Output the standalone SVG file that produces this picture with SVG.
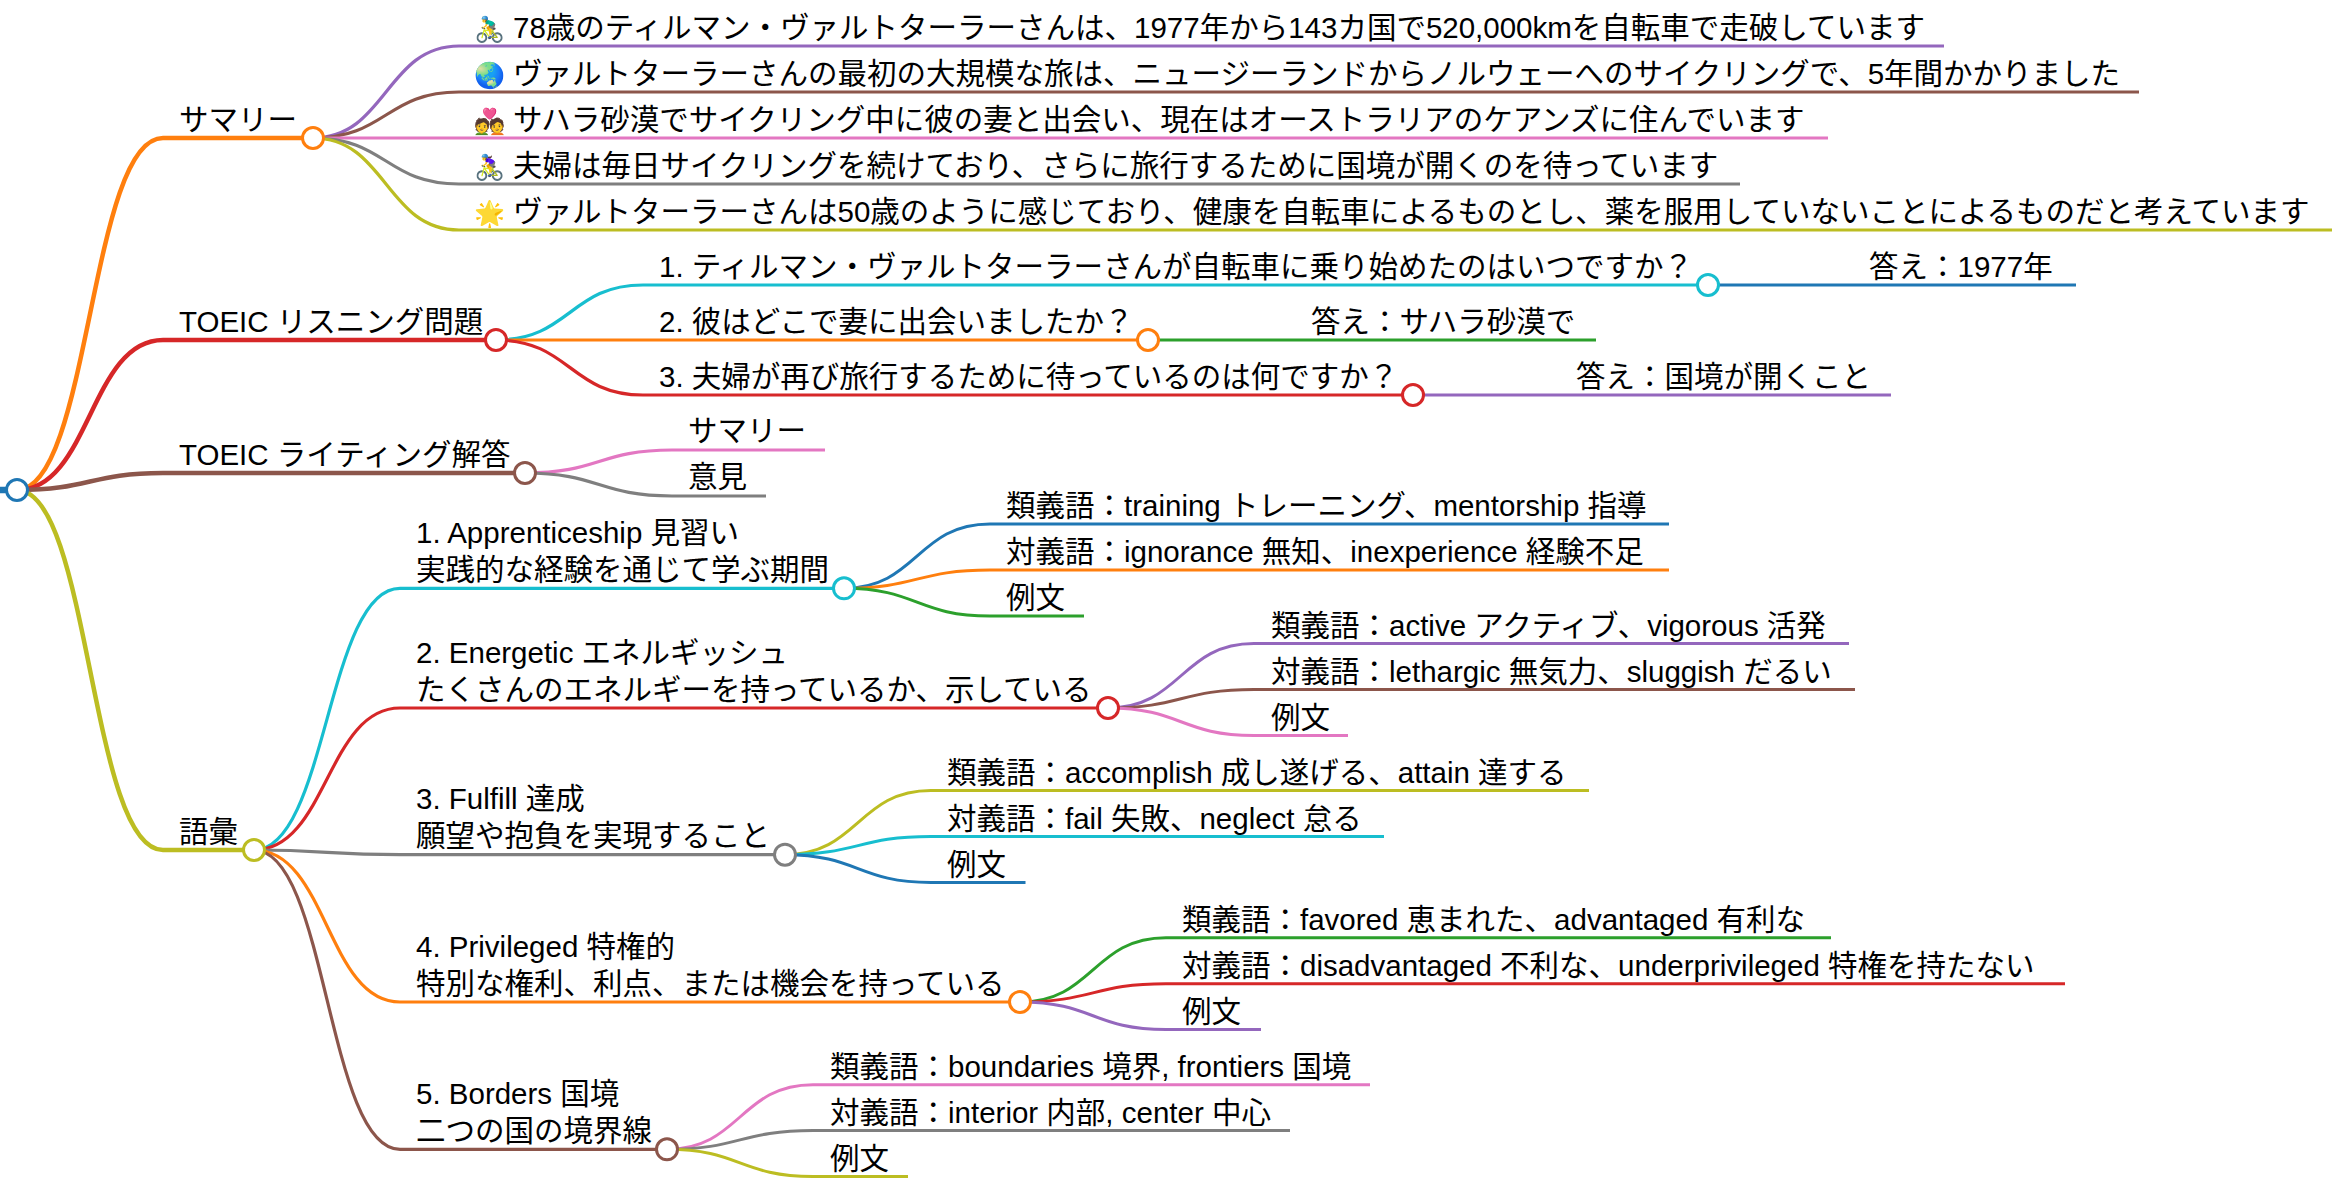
<svg xmlns="http://www.w3.org/2000/svg" width="2344" height="1192" viewBox="0 0 2344 1192">
<style>
text{font-family:"Liberation Sans","Noto Sans CJK JP",sans-serif;font-size:29.5px;fill:#000}
.e{font-size:25px}
path{fill:none}
circle{fill:#fff;stroke-width:3}
.l0{stroke-width:6.5}.l1{stroke-width:4.5}.l2{stroke-width:3.2}.l3{stroke-width:3}
.blue{stroke:#1f77b4}.orange{stroke:#ff7f0e}.green{stroke:#2ca02c}.red{stroke:#d62728}.purple{stroke:#9467bd}.brown{stroke:#8c564b}.pink{stroke:#e377c2}.gray{stroke:#7f7f7f}.olive{stroke:#bcbd22}.cyan{stroke:#17becf}
</style>
<rect width="2344" height="1192" fill="#fff"/>
<g id="connectors">
<path class="l0 blue" d="M0 490H17"/>
<path class="l1 orange" d="M17 490C90 490 90 138 163 138H313"/>
<path class="l1 red" d="M17 490C90 490 90 340 163 340H496"/>
<path class="l1 brown" d="M17 490C90 490 90 473 163 473H525"/>
<path class="l1 olive" d="M17 490C90 490 90 850 163 850H254"/>
<path class="l2 purple" d="M313 138C386 138 386 46 459 46H1944"/>
<path class="l2 brown" d="M313 138C386 138 386 92 459 92H2139"/>
<path class="l2 pink" d="M313 138C386 138 386 138 459 138H1828"/>
<path class="l2 gray" d="M313 138C386 138 386 184 459 184H1740"/>
<path class="l2 olive" d="M313 138C386 138 386 230 459 230H2332"/>
<path class="l2 cyan" d="M496 340C570 340 570 285 643 285H1708"/>
<path class="l2 orange" d="M496 340C570 340 570 340 643 340H1148"/>
<path class="l2 red" d="M496 340C570 340 570 395 643 395H1413"/>
<path class="l3 blue" d="M1708 285H2076"/>
<path class="l3 green" d="M1148 340H1596"/>
<path class="l3 purple" d="M1413 395H1891"/>
<path class="l2 pink" d="M525 473C599 473 599 450 672 450H825"/>
<path class="l2 gray" d="M525 473C599 473 599 496 672 496H766"/>
<path class="l2 cyan" d="M254 850C327 850 327 588.3 400 588.3H844"/>
<path class="l2 red" d="M254 850C327 850 327 708 400 708H1108"/>
<path class="l2 gray" d="M254 850C327 850 327 854.7 400 854.7H785"/>
<path class="l2 orange" d="M254 850C327 850 327 1002 400 1002H1020"/>
<path class="l2 brown" d="M254 850C327 850 327 1149.3 400 1149.3H667"/>
<path class="l3 blue" d="M844 588.3C917 588.3 917 524 990 524H1669"/>
<path class="l3 orange" d="M844 588.3C917 588.3 917 570 990 570H1669"/>
<path class="l3 green" d="M844 588.3C917 588.3 917 616 990 616H1084"/>
<path class="l3 purple" d="M1108 708C1181 708 1181 643.5 1254 643.5H1849"/>
<path class="l3 brown" d="M1108 708C1181 708 1181 689.5 1254 689.5H1855"/>
<path class="l3 pink" d="M1108 708C1181 708 1181 735.5 1254 735.5H1348"/>
<path class="l3 olive" d="M785 854.7C858 854.7 858 790.5 931 790.5H1589"/>
<path class="l3 cyan" d="M785 854.7C858 854.7 858 836.5 931 836.5H1384"/>
<path class="l3 blue" d="M785 854.7C858 854.7 858 882.5 931 882.5H1025.5"/>
<path class="l3 green" d="M1020 1002C1093 1002 1093 937.7 1166 937.7H1831"/>
<path class="l3 red" d="M1020 1002C1093 1002 1093 983.7 1166 983.7H2065"/>
<path class="l3 purple" d="M1020 1002C1093 1002 1093 1029.5 1166 1029.5H1261"/>
<path class="l3 pink" d="M667 1149.3C740 1149.3 740 1084.7 813 1084.7H1370"/>
<path class="l3 gray" d="M667 1149.3C740 1149.3 740 1130.5 813 1130.5H1290"/>
<path class="l3 olive" d="M667 1149.3C740 1149.3 740 1176.5 813 1176.5H908"/>
</g>
<g id="root"><circle class="blue" cx="17" cy="490" r="10.5"/></g>
<g id="n-summary"><text x="179" y="130">サマリー</text><circle class="orange" cx="313" cy="138" r="10.5"/></g>
<g id="s1"><text y="38"><tspan class="e" x="474">🚴‍♂️</tspan><tspan x="513">78歳のティルマン・ヴァルトターラーさんは、1977年から143カ国で520,000kmを自転車で走破しています</tspan></text></g>
<g id="s2"><text y="84"><tspan class="e" x="474">🌏</tspan><tspan x="513">ヴァルトターラーさんの最初の大規模な旅は、ニュージーランドからノルウェーへのサイクリングで、5年間かかりました</tspan></text></g>
<g id="s3"><text y="130"><tspan class="e" x="474">💑</tspan><tspan x="513">サハラ砂漠でサイクリング中に彼の妻と出会い、現在はオーストラリアのケアンズに住んでいます</tspan></text></g>
<g id="s4"><text y="176"><tspan class="e" x="474">🚴‍♀️</tspan><tspan x="513">夫婦は毎日サイクリングを続けており、さらに旅行するために国境が開くのを待っています</tspan></text></g>
<g id="s5"><text y="222"><tspan class="e" x="474">🌟</tspan><tspan x="513">ヴァルトターラーさんは50歳のように感じており、健康を自転車によるものとし、薬を服用していないことによるものだと考えています</tspan></text></g>
<g id="n-listen"><text x="179" y="332">TOEIC リスニング問題</text><circle class="red" cx="496" cy="340" r="10.5"/></g>
<g id="q1"><text x="659" y="277">1. ティルマン・ヴァルトターラーさんが自転車に乗り始めたのはいつですか？</text><circle class="cyan" cx="1708" cy="285" r="10.5"/></g>
<g id="a1"><text x="1869" y="277">答え：1977年</text></g>
<g id="q2"><text x="659" y="332">2. 彼はどこで妻に出会いましたか？</text><circle class="orange" cx="1148" cy="340" r="10.5"/></g>
<g id="a2"><text x="1311" y="332">答え：サハラ砂漠で</text></g>
<g id="q3"><text x="659" y="387">3. 夫婦が再び旅行するために待っているのは何ですか？</text><circle class="red" cx="1413" cy="395" r="10.5"/></g>
<g id="a3"><text x="1576" y="387">答え：国境が開くこと</text></g>
<g id="n-write"><text x="179" y="465">TOEIC ライティング解答</text><circle class="brown" cx="525" cy="473" r="10.5"/></g>
<g id="w1"><text x="688" y="441">サマリー</text></g>
<g id="w2"><text x="688" y="487">意見</text></g>
<g id="n-vocab"><text x="179" y="842">語彙</text><circle class="olive" cx="254" cy="850" r="10.5"/></g>
<g id="v1"><text x="416" y="543">1. Apprenticeship 見習い</text><text x="416" y="580">実践的な経験を通じて学ぶ期間</text><circle class="cyan" cx="844" cy="588.3" r="10.5"/></g>
<g id="v1a"><text x="1006" y="516">類義語：training トレーニング、mentorship 指導</text></g>
<g id="v1b"><text x="1006" y="562">対義語：ignorance 無知、inexperience 経験不足</text></g>
<g id="v1c"><text x="1006" y="608">例文</text></g>
<g id="v2"><text x="416" y="662.6">2. Energetic エネルギッシュ</text><text x="416" y="699.6">たくさんのエネルギーを持っているか、示している</text><circle class="red" cx="1108" cy="708" r="10.5"/></g>
<g id="v2a"><text x="1271" y="635.5">類義語：active アクティブ、vigorous 活発</text></g>
<g id="v2b"><text x="1271" y="681.5">対義語：lethargic 無気力、sluggish だるい</text></g>
<g id="v2c"><text x="1271" y="727.5">例文</text></g>
<g id="v3"><text x="416" y="809.3">3. Fulfill 達成</text><text x="416" y="846.3">願望や抱負を実現すること</text><circle class="gray" cx="785" cy="854.7" r="10.5"/></g>
<g id="v3a"><text x="947" y="782.5">類義語：accomplish 成し遂げる、attain 達する</text></g>
<g id="v3b"><text x="947" y="828.5">対義語：fail 失敗、neglect 怠る</text></g>
<g id="v3c"><text x="947" y="874.5">例文</text></g>
<g id="v4"><text x="416" y="956.6">4. Privileged 特権的</text><text x="416" y="993.6">特別な権利、利点、または機会を持っている</text><circle class="orange" cx="1020" cy="1002" r="10.5"/></g>
<g id="v4a"><text x="1182" y="929.7">類義語：favored 恵まれた、advantaged 有利な</text></g>
<g id="v4b"><text x="1182" y="975.7">対義語：disadvantaged 不利な、underprivileged 特権を持たない</text></g>
<g id="v4c"><text x="1182" y="1021.5">例文</text></g>
<g id="v5"><text x="416" y="1103.9">5. Borders 国境</text><text x="416" y="1140.9">二つの国の境界線</text><circle class="brown" cx="667" cy="1149.3" r="10.5"/></g>
<g id="v5a"><text x="830" y="1076.7">類義語：boundaries 境界, frontiers 国境</text></g>
<g id="v5b"><text x="830" y="1122.5">対義語：interior 内部, center 中心</text></g>
<g id="v5c"><text x="830" y="1168.5">例文</text></g>
</svg>
